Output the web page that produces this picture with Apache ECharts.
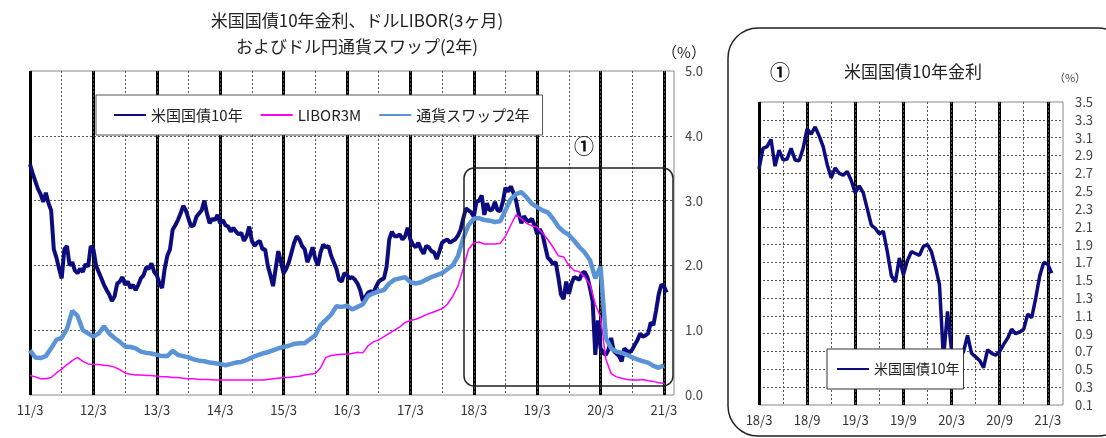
<!DOCTYPE html>
<html><head><meta charset="utf-8">
<script src="https://cdn.jsdelivr.net/npm/echarts@6/dist/echarts.min.js"></script>
<style>html,body{margin:0;padding:0;background:#fff}#c{width:1106px;height:438px}</style>
</head><body><div id="c"></div>
<script>
const FONT = '"Noto Sans CJK JP", "Noto Sans", sans-serif';
const seriesNames = ['米国国債10年', 'LIBOR3M', '通貨スワップ2年'];
const leftXTickLabels = ['11/3','12/3','13/3','14/3','15/3','16/3','17/3','18/3','19/3','20/3','21/3'];
const rightXTickLabels = ['18/3','18/9','19/3','19/9','20/3','20/9','21/3'];

// US 10Y, half-month steps starting 2011/3
const us10y = [
 3.56,3.42,3.30,3.18,3.10,2.98,3.12,2.96,2.85,2.25,
 2.12,1.95,1.80,2.25,2.30,2.00,2.05,1.92,1.88,1.95,
 1.90,2.02,1.98,2.30,2.25,2.00,1.90,1.80,1.70,1.62,
 1.55,1.45,1.52,1.72,1.75,1.82,1.70,1.75,1.65,1.70,
 1.62,1.70,1.80,1.85,1.97,1.95,2.03,1.90,1.85,1.72,
 1.65,1.95,2.15,2.25,2.55,2.62,2.70,2.80,2.92,2.85,
 2.72,2.60,2.62,2.75,2.80,2.85,3.00,2.80,2.65,2.72,
 2.70,2.78,2.65,2.70,2.62,2.60,2.52,2.58,2.52,2.48,
 2.50,2.38,2.45,2.60,2.38,2.30,2.35,2.38,2.25,2.25,
 2.00,1.85,1.68,1.95,2.22,2.05,1.88,1.95,2.05,2.20,
 2.35,2.45,2.40,2.30,2.25,2.05,2.15,2.28,2.10,2.00,
 2.20,2.32,2.28,2.30,2.15,2.05,1.95,1.78,1.75,1.88,
 1.85,1.80,1.82,1.78,1.72,1.62,1.45,1.52,1.58,1.60,
 1.58,1.67,1.75,1.78,1.80,1.98,2.40,2.52,2.45,2.45,
 2.48,2.40,2.45,2.58,2.40,2.32,2.28,2.35,2.25,2.18,
 2.30,2.28,2.22,2.20,2.10,2.22,2.35,2.38,2.40,2.35,
 2.38,2.40,2.46,2.55,2.72,2.88,2.85,2.82,
 2.75,2.98,3.00,3.08,2.78,2.96,2.85,2.86,2.98,2.85,
 2.84,2.98,3.20,3.14,3.22,3.12,3.00,2.80,2.65,2.76,
 2.70,2.68,2.72,2.62,2.48,2.56,2.48,2.30,2.12,2.08,
 2.02,2.05,1.82,1.55,1.48,1.75,1.56,1.72,1.82,1.80,
 1.78,1.88,1.90,1.82,1.65,1.45,0.62,1.15,0.72,0.65,
 0.62,0.70,0.88,0.68,0.64,0.60,0.52,0.72,0.68,0.66,
 0.70,0.78,0.85,0.95,0.90,0.92,0.95,1.12,1.08,1.30,
 1.55,1.70,1.68,1.58
];

// USD LIBOR 3M, monthly from 2011/3
const libor3m = [
 0.30,0.28,0.25,0.25,0.27,0.34,0.40,0.47,0.53,0.58,
 0.52,0.48,0.47,0.47,0.46,0.45,0.43,0.39,0.34,0.32,
 0.31,0.31,0.30,0.30,0.29,0.28,0.28,0.27,0.27,0.26,
 0.25,0.25,0.24,0.24,0.24,0.23,0.23,0.23,0.23,0.23,
 0.23,0.23,0.23,0.23,0.23,0.24,0.25,0.26,0.27,0.27,
 0.28,0.29,0.31,0.32,0.33,0.42,0.58,0.61,0.62,0.63,
 0.63,0.64,0.66,0.65,0.76,0.82,0.85,0.90,0.95,1.00,
 1.05,1.12,1.15,1.17,1.20,1.24,1.27,1.30,1.33,1.40,
 1.52,1.68,1.95,2.25,2.35,2.36,2.33,2.33,2.33,2.34,
 2.45,2.62,2.78,2.72,2.65,2.61,2.59,2.50,2.40,2.28,
 2.15,2.13,2.00,1.92,1.90,1.82,1.70,1.40,1.20,0.55,
 0.33,0.28,0.26,0.24,0.23,0.23,0.24,0.22,0.21,0.19,
 0.18
];

// USD/JPY currency swap 2Y, monthly from 2011/3
const swap2y = [
 0.69,0.58,0.57,0.60,0.72,0.85,0.88,1.02,1.30,1.22,
 1.00,0.95,0.90,0.95,1.06,0.95,0.88,0.82,0.75,0.74,
 0.72,0.67,0.65,0.64,0.62,0.60,0.60,0.68,0.62,0.60,
 0.58,0.55,0.53,0.52,0.50,0.49,0.48,0.46,0.48,0.50,
 0.51,0.54,0.58,0.61,0.64,0.66,0.69,0.72,0.74,0.76,
 0.79,0.80,0.80,0.86,0.92,1.08,1.16,1.24,1.37,1.36,
 1.38,1.32,1.36,1.40,1.53,1.57,1.60,1.62,1.72,1.78,
 1.80,1.82,1.74,1.72,1.74,1.78,1.82,1.85,1.88,1.94,
 2.00,2.14,2.42,2.62,2.72,2.73,2.70,2.69,2.67,2.68,
 2.85,3.02,3.10,3.13,3.05,2.95,2.90,2.85,2.82,2.72,
 2.60,2.52,2.47,2.38,2.28,2.20,2.08,1.80,1.98,0.88,
 0.72,0.67,0.65,0.62,0.58,0.55,0.52,0.50,0.45,0.42,
 0.46
];

const NAVY = '#0c0c7e', PINK = '#ff00ff', LBLUE = '#5a93d6';
const usPts = us10y.map((v, i) => [i * 0.5, v]);
const liborPts = libor3m.map((v, i) => [i, v]);
const swapPts = swap2y.map((v, i) => [i, v]);
const usRight = usPts.filter(p => p[0] >= 84);

const dotted = { color: '#555', width: 1, type: [2, 2] };
const thick = { color: '#000', width: 3 };
const noLine = { show: false };

const chart = echarts.init(document.getElementById('c'), null, { renderer: 'canvas' });
chart.setOption({
  animation: false,
  backgroundColor: '#fff',
  textStyle: { fontFamily: FONT },
  grid: [
    { left: 30, top: 71, width: 644, height: 324, show: true, borderColor: '#888', borderWidth: 1, backgroundColor: 'transparent' },
    { left: 759, top: 102, width: 304, height: 303, show: true, borderColor: '#888', borderWidth: 1, backgroundColor: 'transparent' }
  ],
  xAxis: [
    { gridIndex: 0, type: 'value', min: 0, max: 121.9, interval: 12,
      axisLine: noLine, axisTick: noLine,
      axisLabel: { showMaxLabel: false, margin: 9, fontSize: 13, color: '#333', fontFamily: FONT,
        formatter: v => (Math.abs(v % 12) < 1e-6 ? (leftXTickLabels[Math.round(v / 12)] || '') : '') },
      splitLine: { show: true, showMaxLine: false, lineStyle: thick } },
    { gridIndex: 0, type: 'value', min: 0, max: 121.9, interval: 6, position: 'bottom',
      axisLine: noLine, axisTick: noLine, axisLabel: noLine,
      splitLine: { show: true, showMinLine: false, showMaxLine: false, lineStyle: dotted } },
    { gridIndex: 1, type: 'value', min: 84, max: 121.9, interval: 6,
      axisLine: noLine, axisTick: noLine,
      axisLabel: { showMaxLabel: false, margin: 9, fontSize: 13, color: '#333', fontFamily: FONT,
        formatter: v => { const k = (v - 84) / 6; return Math.abs(k - Math.round(k)) < 1e-6 ? (rightXTickLabels[Math.round(k)] || '') : ''; } },
      splitLine: { show: true, showMaxLine: false, lineStyle: thick } },
    { gridIndex: 1, type: 'value', min: 84, max: 121.9, interval: 3, position: 'bottom',
      axisLine: noLine, axisTick: noLine, axisLabel: noLine,
      splitLine: { show: true, showMinLine: false, showMaxLine: false, lineStyle: dotted } }
  ],
  yAxis: [
    { gridIndex: 0, type: 'value', position: 'right', min: 0, max: 5, interval: 1,
      axisLine: noLine, axisTick: noLine,
      axisLabel: { margin: 11, fontSize: 13, color: '#444', fontFamily: FONT, formatter: v => v.toFixed(1) },
      splitLine: { show: true, showMinLine: false, showMaxLine: false, lineStyle: dotted } },
    { gridIndex: 1, type: 'value', position: 'right', min: 0.1, max: 3.5, interval: 0.2,
      axisLine: noLine, axisTick: noLine,
      axisLabel: { margin: 12, fontSize: 13, color: '#444', fontFamily: FONT, formatter: v => v.toFixed(1) },
      splitLine: { show: true, showMinLine: false, showMaxLine: false, lineStyle: dotted } }
  ],
  legend: [
    { data: seriesNames, left: 96, top: 95, orient: 'horizontal', selectedMode: false,
      padding: [12, 13, 12, 17], itemGap: 17, itemWidth: 32, itemHeight: 2,
      itemStyle: { opacity: 0 },
      backgroundColor: '#fff', borderColor: '#555', borderWidth: 1,
      textStyle: { fontSize: 15, color: '#222', fontFamily: FONT, lineHeight: 16 } },
    { data: [seriesNames[0]], left: 827, top: 349, selectedMode: false,
      padding: [12, 4, 12, 9], itemWidth: 32, itemHeight: 2,
      itemStyle: { opacity: 0 },
      backgroundColor: '#fff', borderColor: '#333', borderWidth: 1,
      textStyle: { fontSize: 14, color: '#222', fontFamily: FONT, lineHeight: 16 } }
  ],
  series: [
    { name: seriesNames[0], type: 'line', xAxisIndex: 0, yAxisIndex: 0, data: usPts, symbol: 'none',
      lineStyle: { color: NAVY, width: 4 }, itemStyle: { color: NAVY }, silent: true },
    { name: seriesNames[1], type: 'line', xAxisIndex: 0, yAxisIndex: 0, data: liborPts, symbol: 'none',
      lineStyle: { color: PINK, width: 1.5 }, itemStyle: { color: PINK }, silent: true },
    { name: seriesNames[2], type: 'line', xAxisIndex: 0, yAxisIndex: 0, data: swapPts, symbol: 'none',
      lineStyle: { color: LBLUE, width: 4.5 }, itemStyle: { color: LBLUE }, silent: true },
    { name: seriesNames[0], type: 'line', xAxisIndex: 2, yAxisIndex: 1, data: usRight, symbol: 'none',
      lineStyle: { color: NAVY, width: 3.5 }, itemStyle: { color: NAVY }, silent: true }
  ],
  graphic: [
    { type: 'text', x: 357, y: 21, z: 100, style: { text: '米国国債10年金利、ドルLIBOR(3ヶ月)', font: '17px ' + FONT, fill: '#222', align: 'center', verticalAlign: 'middle', textAlign: 'center', textVerticalAlign: 'middle' } },
    { type: 'text', x: 357, y: 47, z: 100, style: { text: 'およびドル円通貨スワップ(2年)', font: '17px ' + FONT, fill: '#222', align: 'center', verticalAlign: 'middle', textAlign: 'center', textVerticalAlign: 'middle' } },
    { type: 'text', x: 684, y: 52, z: 100, style: { text: '（%）', font: '15px ' + FONT, fill: '#222', align: 'center', verticalAlign: 'middle', textAlign: 'center', textVerticalAlign: 'middle' } },
    { type: 'text', x: 584, y: 146, z: 100, style: { text: '①', font: 'bold 20px ' + FONT, fill: '#111', align: 'center', verticalAlign: 'middle', textAlign: 'center', textVerticalAlign: 'middle' } },
    { type: 'rect', z: 100, shape: { x: 464, y: 168, width: 209, height: 218, r: 10 }, style: { fill: 'none', stroke: '#222', lineWidth: 1.5 } },
    { type: 'rect', z: 100, shape: { x: 728, y: 28, width: 400, height: 408, r: 30 }, style: { fill: 'none', stroke: '#222', lineWidth: 1.5 } },
    { type: 'text', x: 780, y: 72, z: 100, style: { text: '①', font: 'bold 20px ' + FONT, fill: '#111', align: 'center', verticalAlign: 'middle', textAlign: 'center', textVerticalAlign: 'middle' } },
    { type: 'text', x: 913, y: 72, z: 100, style: { text: '米国国債10年金利', font: '17px ' + FONT, fill: '#222', align: 'center', verticalAlign: 'middle', textAlign: 'center', textVerticalAlign: 'middle' } },
    { type: 'text', x: 1070, y: 78, z: 100, style: { text: '（%）', font: '11px ' + FONT, fill: '#444', align: 'center', verticalAlign: 'middle', textAlign: 'center', textVerticalAlign: 'middle' } }
  ]
});
</script>
</body></html>
